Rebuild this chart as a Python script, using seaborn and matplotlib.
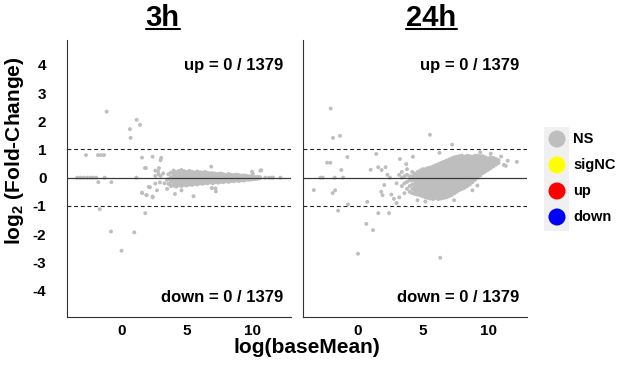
import numpy as np
import pandas as pd
import matplotlib
matplotlib.use("Agg")
import matplotlib.pyplot as plt
from matplotlib.patches import Rectangle
from matplotlib.lines import Line2D
import seaborn as sns

# ---------------- data ----------------
panels = ["3h", "24h"]
total_genes = 1379
n_up = [0, 0]
n_down = [0, 0]
legend_labels = ["NS", "sigNC", "up", "down"]
legend_colors = ["#bebebe", "#ffff00", "#ff0000", "#0000ff"]
x_ticks = [0, 5, 10]
y_ticks = [4, 3, 2, 1, 0, -1, -2, -3, -4]

# 3h: isolated points (log baseMean, log2 fold change)
sparse_3h_x = [-1.12, 1.17, 1.43, 0.66, 0.71, -2.70, -1.78, -1.55, -1.32, 1.58,
               2.39, 3.05, 1.81, -3.38, -3.13, -2.88, -2.62, -2.37, -2.16, -1.93,
               -1.27, 1.15, -1.76, -0.76, -1.65, -0.79, 0.99, 0.02, 1.83, 1.58,
               1.91, 2.39, 2.88, 3.00, 1.88, 2.80, 2.60, 2.19, 1.60, 1.95,
               2.40, 2.73, 6.87, 10.63, 5.52, 7.20, 10.00, 12.16, 11.60, 11.30,
               4.10, 2.60, 2.85, 3.00, 3.20, 3.30, 2.95, 2.10, 2.60, 3.50,
               3.70, 3.90, 3.50, 10.70, 10.05, 6.92, 7.23, 4.60, 11.00, 11.50]
sparse_3h_y = [2.34, 2.05, 1.87, 1.72, 1.41, 0.80, 0.80, 0.80, 0.80, 0.71,
               0.74, 0.70, 0.34, 0.0, 0.0, 0.0, 0.0, 0.0, 0.0, 0.0,
               0.0, 0.0, -0.16, -0.16, -1.12, -1.91, -1.94, -2.59, -1.26, -0.53,
               -0.62, -0.67, 0.34, 0.62, 0.34, 0.22, 0.06, -0.34, -0.55, -0.62,
               -0.70, -0.45, 0.39, 0.25, -0.66, -0.38, 0.21, 0.0, 0.0, 0.0,
               -0.58, 0.25, 0.12, 0.06, 0.15, -0.20, -0.17, -0.33, -0.21, -0.08,
               -0.24, -0.14, -0.40, 0.26, 0.14, -0.37, -0.49, -0.45, 0.0, 0.0]

# 3h: dense cloud, by column of log baseMean
cloud_3h = {
    3.6: [-0.22, -0.05, 0.12],
    3.8: [-0.30, -0.12, 0.02, 0.18],
    4.0: [-0.28, -0.18, -0.08, 0.00, 0.08, 0.18, 0.25],
    4.2: [-0.32, -0.22, -0.12, -0.04, 0.04, 0.12, 0.20],
    4.4: [-0.27, -0.18, -0.10, -0.02, 0.06, 0.14, 0.24],
    4.6: [-0.30, -0.20, -0.12, -0.04, 0.04, 0.12, 0.20, 0.27],
    4.8: [-0.26, -0.17, -0.09, -0.01, 0.07, 0.15, 0.23],
    5.0: [-0.28, -0.20, -0.12, -0.04, 0.04, 0.12, 0.20],
    5.2: [-0.24, -0.16, -0.08, 0.00, 0.08, 0.16, 0.24],
    5.4: [-0.26, -0.18, -0.10, -0.02, 0.06, 0.14, 0.21],
    5.6: [-0.22, -0.14, -0.06, 0.02, 0.10, 0.18],
    5.8: [-0.24, -0.16, -0.08, 0.00, 0.08, 0.16, 0.22],
    6.0: [-0.20, -0.12, -0.04, 0.04, 0.12, 0.19],
    6.2: [-0.22, -0.14, -0.06, 0.02, 0.10, 0.18],
    6.4: [-0.19, -0.11, -0.03, 0.05, 0.13, 0.20],
    6.6: [-0.20, -0.12, -0.04, 0.04, 0.12, 0.17],
    6.8: [-0.17, -0.09, -0.01, 0.07, 0.15],
    7.0: [-0.20, -0.12, -0.04, 0.04, 0.12, 0.16],
    7.2: [-0.16, -0.08, 0.00, 0.08, 0.14],
    7.4: [-0.18, -0.10, -0.02, 0.06, 0.13],
    7.6: [-0.15, -0.07, 0.01, 0.09, 0.15],
    7.8: [-0.16, -0.08, 0.00, 0.08, 0.12],
    8.0: [-0.13, -0.05, 0.03, 0.10],
    8.2: [-0.15, -0.07, 0.01, 0.09, 0.13],
    8.4: [-0.12, -0.04, 0.04, 0.10],
    8.6: [-0.13, -0.05, 0.03, 0.09],
    8.8: [-0.10, -0.02, 0.06, 0.11],
    9.0: [-0.12, -0.04, 0.04, 0.09],
    9.2: [-0.09, -0.01, 0.07],
    9.4: [-0.10, -0.03, 0.04, 0.08],
    9.6: [-0.07, 0.00, 0.06],
    9.8: [-0.08, -0.01, 0.05],
    10.0: [-0.06, 0.00, 0.05],
    10.2: [-0.05, 0.02],
    10.4: [-0.04, 0.03],
    10.6: [-0.02, 0.02],
}

# 24h: isolated points
sparse_24h_x = [-2.04, -1.86, -1.32, -0.76, -2.31, -2.06, -1.22, -2.82, -2.65, -1.73,
                -1.09, -3.33, -1.70, -1.89, -1.47, -0.71, 0.05, 0.69, 1.20, 0.76,
                1.60, 2.42, 1.02, 1.45, 1.60, 1.86, 2.16, 1.83, 1.93, 2.06,
                3.26, 3.74, 4.25, 6.28, 5.55, 7.25, 6.34, 9.18, 11.50, 12.20,
                11.20, 11.35, 2.60, 2.80, 3.00, 3.20, 2.30, 2.50, 4.60, 5.20,
                7.40, 8.80, 10.20, 9.40, 11.00, 3.00, 3.20]
sparse_24h_y = [2.45, 1.41, 1.48, 0.73, 0.53, 0.53, 0.27, 0.0, 0.0, 0.0,
                0.0, -0.44, -0.45, -0.55, -1.17, -0.95, -2.70, -1.64, -1.86, -0.86,
                -1.26, -1.26, 0.28, 0.84, 0.37, 0.27, 0.37, -0.50, -0.62, -0.26,
                0.66, 0.48, 0.74, 0.88, 1.52, 1.17, -2.84, -0.28, 0.60, 0.56,
                0.45, 0.42, -0.60, -0.75, -0.90, -0.70, 0.10, 0.00, -0.80, -0.85,
                -0.80, -0.45, 0.85, 0.90, 0.75, -0.20, 0.10]

# 24h: dense cloud, by column of log baseMean
cloud_24h = {
    3.4: [-0.30, 0.00, 0.20],
    3.6: [-0.55, -0.20, 0.05],
    3.8: [-0.40, -0.15, 0.10, 0.30],
    4.0: [-0.50, -0.30, -0.10, 0.05],
    4.2: [-0.55, -0.40, -0.25, -0.10, 0.05, 0.20],
    4.4: [-0.58, -0.46, -0.34, -0.22, -0.10, 0.02, 0.14],
    4.6: [-0.60, -0.50, -0.40, -0.30, -0.20, -0.10, 0.00, 0.10, 0.20],
    4.8: [-0.62, -0.55, -0.45, -0.35, -0.25, -0.15, -0.05, 0.05, 0.15, 0.25],
    5.0: [-0.66, -0.56, -0.46, -0.36, -0.26, -0.16, -0.06, 0.04, 0.14, 0.24, 0.30],
    5.2: [-0.70, -0.60, -0.50, -0.40, -0.30, -0.20, -0.10, 0.00, 0.10, 0.20, 0.30],
    5.4: [-0.72, -0.62, -0.52, -0.42, -0.32, -0.22, -0.12, -0.02, 0.08, 0.18, 0.28, 0.34],
    5.6: [-0.74, -0.64, -0.54, -0.44, -0.34, -0.24, -0.14, -0.04, 0.06, 0.16, 0.26, 0.36],
    5.8: [-0.76, -0.66, -0.56, -0.46, -0.36, -0.26, -0.16, -0.06, 0.04, 0.14, 0.24, 0.34, 0.40],
    6.0: [-0.72, -0.62, -0.52, -0.42, -0.32, -0.22, -0.12, -0.02, 0.08, 0.18, 0.28, 0.38, 0.44],
    6.2: [-0.76, -0.66, -0.56, -0.46, -0.36, -0.26, -0.16, -0.06, 0.04, 0.14, 0.24, 0.34, 0.44, 0.48],
    6.4: [-0.74, -0.64, -0.54, -0.44, -0.34, -0.24, -0.14, -0.04, 0.06, 0.16, 0.26, 0.36, 0.46, 0.52],
    6.6: [-0.72, -0.62, -0.52, -0.42, -0.32, -0.22, -0.12, -0.02, 0.08, 0.18, 0.28, 0.38, 0.48, 0.56],
    6.8: [-0.70, -0.60, -0.50, -0.40, -0.30, -0.20, -0.10, 0.00, 0.10, 0.20, 0.30, 0.40, 0.50, 0.60],
    7.0: [-0.66, -0.56, -0.46, -0.36, -0.26, -0.16, -0.06, 0.04, 0.14, 0.24, 0.34, 0.44, 0.54, 0.64],
    7.2: [-0.62, -0.52, -0.42, -0.32, -0.22, -0.12, -0.02, 0.08, 0.18, 0.28, 0.38, 0.48, 0.58, 0.68],
    7.4: [-0.56, -0.46, -0.36, -0.26, -0.16, -0.06, 0.04, 0.14, 0.24, 0.34, 0.44, 0.54, 0.64, 0.72],
    7.6: [-0.50, -0.40, -0.30, -0.20, -0.10, 0.00, 0.10, 0.20, 0.30, 0.40, 0.50, 0.60, 0.70, 0.74],
    7.8: [-0.44, -0.34, -0.24, -0.14, -0.04, 0.06, 0.16, 0.26, 0.36, 0.46, 0.56, 0.66, 0.76],
    8.0: [-0.40, -0.30, -0.20, -0.10, 0.00, 0.10, 0.20, 0.30, 0.40, 0.50, 0.60, 0.70, 0.78],
    8.2: [-0.36, -0.26, -0.16, -0.06, 0.04, 0.14, 0.24, 0.34, 0.44, 0.54, 0.64, 0.74],
    8.4: [-0.30, -0.20, -0.10, 0.00, 0.10, 0.20, 0.30, 0.40, 0.50, 0.60, 0.70, 0.78],
    8.6: [-0.24, -0.14, -0.04, 0.06, 0.16, 0.26, 0.36, 0.46, 0.56, 0.66, 0.76],
    8.8: [-0.16, -0.06, 0.04, 0.14, 0.24, 0.34, 0.44, 0.54, 0.64, 0.74],
    9.0: [-0.08, 0.02, 0.12, 0.22, 0.32, 0.42, 0.52, 0.62, 0.72, 0.78],
    9.2: [0.00, 0.10, 0.20, 0.30, 0.40, 0.50, 0.60, 0.70, 0.78],
    9.4: [0.08, 0.18, 0.28, 0.38, 0.48, 0.58, 0.68, 0.76],
    9.6: [0.16, 0.26, 0.36, 0.46, 0.56, 0.66, 0.76],
    9.8: [0.22, 0.32, 0.42, 0.52, 0.62, 0.72],
    10.0: [0.28, 0.38, 0.48, 0.58, 0.68],
    10.2: [0.34, 0.44, 0.54, 0.64, 0.72],
    10.4: [0.40, 0.50, 0.60, 0.70],
    10.6: [0.46, 0.56, 0.66],
    10.8: [0.52, 0.62],
}


def build(sparse_x, sparse_y, cloud, panel):
    xs = list(sparse_x)
    ys = list(sparse_y)
    for cx, col in cloud.items():
        xs += [cx] * len(col)
        ys += col
    return pd.DataFrame({"panel": panel, "logBaseMean": xs, "log2FC": ys, "status": "NS"})


df = pd.concat([build(sparse_3h_x, sparse_3h_y, cloud_3h, "3h"),
                build(sparse_24h_x, sparse_24h_y, cloud_24h, "24h")], ignore_index=True)

# ---------------- style ----------------
sns.set_theme(style="white")
plt.rcParams["font.family"] = ["Liberation Sans", "DejaVu Sans"]
plt.rcParams["font.weight"] = "bold"
plt.rcParams["mathtext.default"] = "regular"
plt.rcParams["text.color"] = "black"
plt.rcParams["xtick.color"] = "black"
plt.rcParams["ytick.color"] = "black"

W, H = 625, 370
fig = plt.figure(figsize=(W / 100, H / 100), dpi=100)


def fx(px):
    return px / W


def fy(py):
    return 1 - py / H


axes_px = [(67.3, 290.7), (303.3, 526.7)]
top_px, bot_px = 40.0, 316.7
XLIM = (-4.13, 12.95)
YLIM = (-4.93, 4.88)
spine_col = "#333333"

axes = []
for i, panel in enumerate(panels):
    l, r = axes_px[i]
    ax = fig.add_axes([fx(l), fy(bot_px), (r - l) / W, (bot_px - top_px) / H])
    axes.append(ax)
    sub = df[df["panel"] == panel]
    sns.scatterplot(data=sub, x="logBaseMean", y="log2FC", hue="status",
                    palette={"NS": legend_colors[0]}, s=8, linewidth=0,
                    legend=False, ax=ax, zorder=2)
    ax.axhline(0, color="#3a3a3a", lw=0.9, zorder=3)
    for yv in (1, -1):
        ax.axhline(yv, color="#222222", lw=0.8, ls=(0, (3.5, 2.5)), zorder=3)
    ax.set_xlim(*XLIM)
    ax.set_ylim(*YLIM)
    ax.set_xticks(x_ticks)
    ax.set_xticklabels([str(t) for t in x_ticks], fontsize=11, fontweight="bold")
    ax.set_yticks(y_ticks)
    if i == 0:
        ax.set_yticklabels([str(t) for t in y_ticks], fontsize=11, fontweight="bold")
    else:
        ax.set_yticklabels([])
    ax.tick_params(axis="y", direction="out", length=2, width=0.7, color=spine_col,
                   labelcolor="black", pad=13)
    ax.tick_params(axis="x", direction="out", length=2, width=0.7, color=spine_col,
                   labelcolor="black", pad=3.5)
    ax.set_xlabel("")
    ax.set_ylabel("")
    for s in ("top", "right"):
        ax.spines[s].set_visible(False)
    for s in ("left", "bottom"):
        ax.spines[s].set_color(spine_col)
        ax.spines[s].set_linewidth(0.8)
    ax.set_facecolor("white")
    ax.text(12.4, 3.96, f"up = {n_up[i]} / {total_genes}", ha="right", va="center",
            fontsize=12, fontweight="bold", color="black")
    ax.text(12.4, -4.26, f"down = {n_down[i]} / {total_genes}", ha="right", va="center",
            fontsize=12, fontweight="bold", color="black")

# panel titles (underlined)
title_pos = [162.5, 431.5]
title_texts = []
for tx, lab in zip(title_pos, panels):
    t = fig.text(fx(tx), fy(25.7), lab, ha="center", va="baseline",
                 fontsize=21, fontweight="bold", color="black")
    title_texts.append(t)

# axis labels
fig.text(fx(307), fy(347.5), "log(baseMean)", ha="center", va="center",
         fontsize=15, fontweight="bold", color="black")
fig.text(fx(15), fy(151), r"log$_2$ (Fold-Change)", ha="center", va="center",
         rotation=90, fontsize=15, fontweight="bold", color="black")

# legend
lax = fig.add_axes([0, 0, 1, 1], zorder=-1)
lax.set_xlim(0, W)
lax.set_ylim(H, 0)
lax.axis("off")
lax.add_patch(Rectangle((544, 127), 25, 104, facecolor="#f0f0f0", edgecolor="none"))
leg_y = [139, 165, 191, 217]
lax.scatter([557] * 4, leg_y, s=150, c=legend_colors, linewidths=0)
for yv, lab in zip(leg_y, legend_labels):
    lax.text(573, yv, lab, ha="left", va="center", fontsize=10.5, fontweight="bold",
             color="black")

# underline for titles
fig.canvas.draw()
rend = fig.canvas.get_renderer()
for t in title_texts:
    bb = t.get_window_extent(rend)
    x0, x1 = bb.x0 / W, bb.x1 / W
    yl = fy(29.3)
    fig.add_artist(Line2D([x0, x1], [yl, yl], color="black", lw=1.5,
                          transform=fig.transFigure))

fig.savefig("out.png", dpi=100, facecolor="white")
